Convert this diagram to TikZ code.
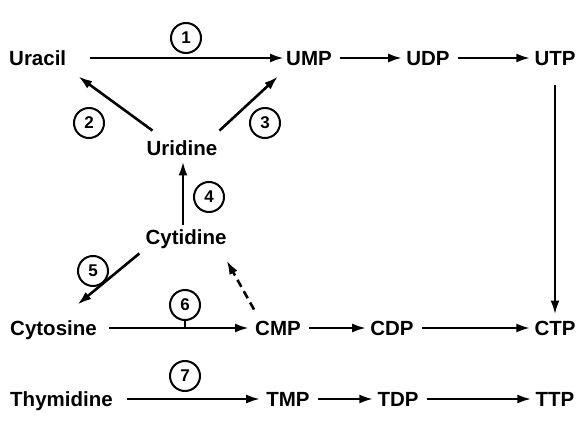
\documentclass[tikz,border=0pt]{standalone}
\usepackage{fontspec}
\setmainfont{Liberation Sans}
\usetikzlibrary{positioning, arrows.meta}

\begin{document}
\begin{tikzpicture}[
    x=1pt, y=1pt,
    mol/.style={font=\fontsize{20.5}{24}\selectfont\bfseries, inner sep=2pt, text height=14.5pt, text depth=0pt},
    enz/.style={draw, circle, line width=2pt, minimum size=30pt, inner sep=0pt, font=\fontsize{17}{20}\selectfont\bfseries},
    arr/.style={-{Latex[length=14pt, width=9pt]}, line width=2.6pt}
]
    \useasboundingbox (0,0) rectangle (582,432);

    % Uridine row
    \node[mol, anchor=west] (Uracil) at (7,374) {Uracil};
    \node[mol] (UMP) at (309,374) {UMP};
    \node[mol] (UDP) at (428,374) {UDP};
    \node[mol] (UTP) at (555,374) {UTP};

    % Nucleosides
    \node[mol] (Uridine) at (182,284) {Uridine};
    \node[mol] (Cytidine) at (186,195) {Cytidine};

    % Cytidine row
    \node[mol, anchor=west] (Cytosine) at (8,104) {Cytosine};
    \node[mol] (CMP) at (278,104) {CMP};
    \node[mol] (CDP) at (392,104) {CDP};
    \node[mol] (CTP) at (555,104) {CTP};

    % Thymidine row
    \node[mol, anchor=west] (Thymidine) at (8,33) {Thymidine};
    \node[mol] (TMP) at (288,33) {TMP};
    \node[mol] (TDP) at (398,33) {TDP};
    \node[mol] (TTP) at (555,33) {TTP};

    % Enzyme numbers
    \node[enz] (n1) at (186,394) {1};
    \node[enz] (n2) at (89,309) {2};
    \node[enz] (n3) at (265,309) {3};
    \node[enz] (n4) at (209,235) {4};
    \node[enz] (n5) at (93,161) {5};
    \node[enz] (n6) at (185,127) {6};
    \node[enz] (n7) at (185,56) {7};

    % Salvage steps
    \draw[arr, shorten <=22pt] (Uracil) -- (UMP);
    \draw[arr] ([shift={(8pt,8pt)}]Uridine.north west) -- ([shift={(10pt,-9pt)}]Uracil.south east);
    \draw[arr] ([shift={(0pt,8pt)}]Uridine.north east) -- ([shift={(-6pt,-9pt)}]UMP.south west);
    \draw[arr, shorten <=3pt, shorten >=4pt] ([xshift=-3pt]Cytidine.north) -- ([xshift=1pt]Uridine.south);
    \draw[arr] ([shift={(-4pt,-7pt)}]Cytidine.south west) -- ([shift={(24pt,14pt)}]Cytosine.north);
    \draw[arr, dash pattern=on 8pt off 5pt] ([shift={(1pt,9pt)}]CMP.north west) -- ([shift={(-2pt,-14pt)}]Cytidine.south east);
    \draw[arr, shorten <=10pt, shorten >=4pt] (Cytosine) -- (CMP);
    \draw[line width=2pt] (n6.south) -- (n6.south |- CMP);
    \draw[arr, shorten <=12pt, shorten >=4pt] (Thymidine) -- (TMP);

    % Phosphorylations
    \foreach \a/\b in {UMP/UDP, UDP/UTP, CMP/CDP, CDP/CTP, TMP/TDP, TDP/TTP} {
        \draw[arr, shorten <=6pt, shorten >=2pt] (\a) -- (\b);
    }
    \draw[arr, shorten <=18pt, shorten >=4pt] (UTP.south) -- (UTP.south |- CTP.north);

\end{tikzpicture}
\end{document}
